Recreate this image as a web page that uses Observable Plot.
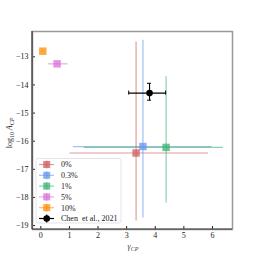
<!DOCTYPE html>
<html><head><meta charset="utf-8">
<script src="https://cdn.jsdelivr.net/npm/d3@7"></script>
<script src="https://cdn.jsdelivr.net/npm/@observablehq/plot@0.6"></script>
<style>
html,body{margin:0;padding:0;background:#fff;}
#chart{position:relative;width:258px;height:258px;}
</style>
</head><body><div id="chart"></div>
<script>
const labels = ["0%", "0.3%", "1%", "5%", "10%"];
const colors = ["indianred", "cornflowerblue", "mediumseagreen", "orchid", "darkorange"];
const xs  = [3.33, 3.57, 4.38, 0.57, 0.07];
const ys  = [-16.42, -16.19, -16.22, -13.25, -12.80];
const xlo = [1.02, 1.14, 1.52, 0.26, 0.04];
const xhi = [5.86, 5.98, 6.38, 0.95, 0.10];
const ylo = [-18.84, -18.73, -18.20, -13.28, -12.83];
const yhi = [-12.47, -12.41, -13.71, -13.22, -12.77];
const chenLabel = "Chen  et al., 2021";
const chenX = [3.80], chenY = [-14.29];
const chenXlo = [3.09], chenXhi = [4.38], chenYlo = [-14.56], chenYhi = [-13.96];
const xTicks = [0, 1, 2, 3, 4, 5, 6];
const yTicks = [-19, -18, -17, -16, -15, -14, -13];

const pts = labels.map((l, i) => ({label: l, color: colors[i], x: xs[i], y: ys[i], x1: xlo[i], x2: xhi[i], y1: ylo[i], y2: yhi[i]}));
const chen = chenX.map((x, i) => ({x, y: chenY[i], x1: chenXlo[i], x2: chenXhi[i], y1: chenYlo[i], y2: chenYhi[i]}));

const font = "'Liberation Serif', 'DejaVu Serif', serif";
const plot = Plot.plot({
  width: 258, height: 258,
  marginLeft: 32, marginRight: 26, marginTop: 31, marginBottom: 29,
  style: {fontFamily: font, fontSize: "8px", color: "#222", background: "white"},
  x: {domain: [-0.29, 6.7]},
  y: {domain: [-19.14, -12.1]},
  marks: [
    Plot.ruleY(pts, {y: "y", x1: "x1", x2: "x2", stroke: "color", strokeOpacity: 0.6, strokeWidth: 1.2}),
    Plot.ruleX(pts, {x: "x", y1: "y1", y2: "y2", stroke: "color", strokeOpacity: 0.6, strokeWidth: 1.2}),
    Plot.dot(pts, {x: "x", y: "y", symbol: "square", r: 4.2, fill: "color", fillOpacity: 0.75, stroke: "none"}),
    Plot.ruleY(chen, {y: "y", x1: "x1", x2: "x2", stroke: "black", strokeWidth: 1.1}),
    Plot.ruleX(chen, {x: "x", y1: "y1", y2: "y2", stroke: "black", strokeWidth: 1.1}),
    Plot.dot(chen, {x: "x", y: "y", r: 3.3, fill: "black"}),
    Plot.axisX(xTicks, {tickSize: -3, tickPadding: 6, label: null, tickFormat: d3.format("d")}),
    Plot.axisY(yTicks, {tickSize: -3, tickPadding: 7, label: null, tickFormat: d => "\u2212" + Math.abs(d)}),
    Plot.frame({stroke: "#999", strokeWidth: 1.5})
  ]
});
document.getElementById("chart").appendChild(plot);

const svg = d3.select(plot);
const sx = plot.scale("x"), sy = plot.scale("y");
// caps for Chen error bars
const capG = svg.append("g").attr("stroke", "black").attr("stroke-width", 1);
chen.forEach(c => {
  const px = sx.apply(c.x);
  [c.y1, c.y2].forEach(v => { const py = sy.apply(v); capG.append("line").attr("x1", px - 2).attr("x2", px + 2).attr("y1", py).attr("y2", py); });
  const py = sy.apply(c.y);
  [c.x1, c.x2].forEach(v => { const qx = sx.apply(v); capG.append("line").attr("x1", qx).attr("x2", qx).attr("y1", py - 2).attr("y2", py + 2); });
});
// dark left & bottom spines
const L = 32, R = 258 - 26, T = 31, B = 258 - 29;
svg.append("line").attr("x1", L).attr("x2", L).attr("y1", T).attr("y2", B).attr("stroke", "#333").attr("stroke-width", 1.2);
svg.append("line").attr("x1", L).attr("x2", R).attr("y1", B).attr("y2", B).attr("stroke", "#333").attr("stroke-width", 1.2);

// axis labels
const xl = svg.append("text").attr("x", 133).attr("y", 249).attr("text-anchor", "middle").attr("font-size", 8).attr("font-family", font).attr("fill", "#444");
xl.append("tspan").attr("font-style", "italic").text("γ");
xl.append("tspan").attr("font-style", "italic").attr("font-size", 6).attr("dy", 1.5).text("CP");
const yl = svg.append("text").attr("transform", "translate(12,133) rotate(-90)").attr("text-anchor", "middle").attr("font-size", 8).attr("font-family", font).attr("fill", "#333");
yl.append("tspan").text("log");
yl.append("tspan").attr("font-size", 6).attr("dy", 2).text("10");
yl.append("tspan").attr("dy", -2).attr("font-style", "italic").text(" A");
yl.append("tspan").attr("font-style", "italic").attr("font-size", 6).attr("dy", 1.5).text("CP");

// legend
const lg = svg.append("g").attr("text-anchor", "start");
lg.append("rect").attr("x", 36).attr("y", 158.5).attr("width", 85).attr("height", 64.5).attr("rx", 2).attr("fill", "white").attr("fill-opacity", 0.85).attr("stroke", "#ddd").attr("stroke-width", 0.8);
const entries = pts.map(p => ({label: p.label, color: p.color, sq: true})).concat([{label: chenLabel, color: "black", sq: false}]);
entries.forEach((e, i) => {
  const yy = 164.5 + i * 10.8;
  const g = lg.append("g");
  g.append("line").attr("x1", 39).attr("x2", 54).attr("y1", yy).attr("y2", yy).attr("stroke", e.color).attr("stroke-opacity", e.sq ? 0.6 : 1).attr("stroke-width", 1.2);
  g.append("line").attr("x1", 46.7).attr("x2", 46.7).attr("y1", yy - 4).attr("y2", yy + 4).attr("stroke", e.color).attr("stroke-opacity", e.sq ? 0.6 : 1).attr("stroke-width", 1.2);
  if (e.sq) g.append("rect").attr("x", 46.7 - 3.5).attr("y", yy - 3.5).attr("width", 7).attr("height", 7).attr("fill", e.color).attr("fill-opacity", 0.75);
  else g.append("circle").attr("cx", 46.7).attr("cy", yy).attr("r", 3.3).attr("fill", "black");
  g.append("text").attr("x", 61).attr("y", yy).attr("dy", "0.35em").attr("text-anchor", "start").attr("font-size", 8).attr("font-family", font).attr("fill", "#222").text(e.label);
});
</script>
</body></html>
